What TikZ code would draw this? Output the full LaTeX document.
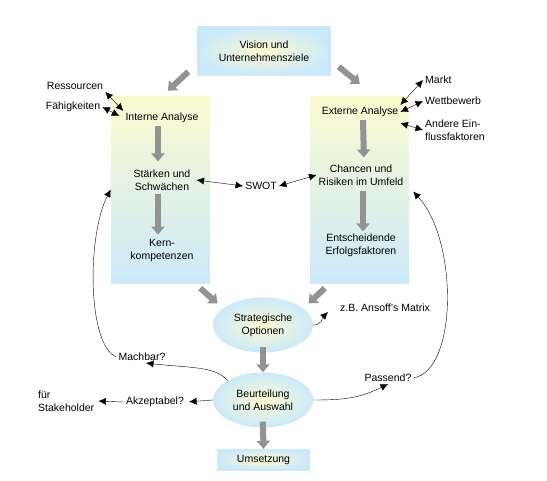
\documentclass[tikz,border=0pt]{standalone}
\usepackage{fontspec}
\setmainfont{Liberation Sans}
\usetikzlibrary{arrows.meta,shapes.geometric}
\definecolor{lblue}{RGB}{204,233,250}
\definecolor{lyell}{RGB}{251,251,208}
\tikzset{
  txt/.style = {align=center, inner sep=2pt, font=\fontsize{10.5}{13}\selectfont},
  box_v/.style = {rectangle, top color=lyell, bottom color=lblue, minimum width=99pt, minimum height=187pt},
  box_r/.style = {txt, rectangle, inner color=lyell, outer color=lblue},
  ell_o/.style = {txt, ellipse, inner color=lyell, outer color=lblue, minimum width=100pt, minimum height=55pt, inner sep=0pt},
  big_arr/.style = {draw=gray!85, line width=6pt, -{Triangle[length=8pt,width=13pt]}},
  thin_arr/.style = {draw=black, thin, -{Latex[length=7.5pt,width=7pt]}},
  dbl_arr/.style = {draw=black, thin, {Latex[length=7.5pt,width=7pt]}-{Latex[length=7.5pt,width=7pt]}}
}

\begin{document}
\begin{tikzpicture}[x=1pt, y=-1pt]
\useasboundingbox (0,0) rectangle (547,480);

% Ziele und Analyse
\node [box_r, minimum width=133pt, minimum height=49pt] (vision) at (264,51) {Vision und\\Unternehmensziele};
\node [box_v] (intbox) at (160.5,189.5) {};
\node [box_v] (extbox) at (359.5,189.5) {};

\node [txt] (intA) at (162,118) {Interne Analyse};
\node [txt] (sw) at (162,180) {Stärken und\\Schwächen};
\node [txt] (kern) at (162,250) {Kern-\\kompetenzen};
\node [txt] (extA) at (360,112) {Externe Analyse};
\node [txt] (chancen) at (361,175) {Chancen und\\Risiken im Umfeld};
\node [txt] (erfolg) at (361,245) {Entscheidende\\Erfolgsfaktoren};
\node [txt] (swot) at (261,186) {SWOT};

\node [txt] (res) at (75,86) {Ressourcen};
\node [txt] (faeh) at (73,107) {Fähigkeiten};
\node [txt, anchor=west] (markt) at (423,80) {Markt};
\node [txt, anchor=west] (wett) at (423,101) {Wettbewerb};
\node [txt, anchor=west, align=left] (andere) at (423,130) {Andere Ein-\\flussfaktoren};

% Optionen und Auswahl
\node [ell_o] (strat) at (263,325) {Strategische\\Optionen};
\node [ell_o] (beur) at (263,400) {Beurteilung\\und Auswahl};
\node [box_r, minimum width=93pt, minimum height=21pt, inner sep=0pt] (ums) at (263.5,459.5) {Umsetzung};

\node [txt, anchor=west] (ansoff) at (338,308) {z.B. Ansoff's Matrix};
\node [txt] (machbar) at (142,357) {Machbar?};
\node [txt] (akz) at (155,402) {Akzeptabel?};
\node [txt, anchor=west, align=left] (stake) at (36,401) {für\\Stakeholder};
\node [txt] (passend) at (388,378) {Passend?};

% graue Pfeile
\draw [big_arr] ([shift={(-9,-4)}]vision.south west) -- ([shift={(57,-5)}]intbox.north west);
\draw [big_arr] ([shift={(8,-9)}]vision.south east) -- ([shift={(50,-12)}]extbox.north west);
\draw [big_arr, shorten <=1pt, shorten >=6pt] ([xshift=-4pt]intA.south) -- ([xshift=-4pt]sw.north);
\draw [big_arr, shorten <=1pt, shorten >=2pt] ([xshift=-4pt]sw.south) -- ([xshift=-4pt]kern.north);
\draw [big_arr, shorten <=1pt, shorten >=5pt] ([xshift=3pt]extA.south) -- ([xshift=3pt]chancen.north);
\draw [big_arr, shorten <=3pt, shorten >=0pt] ([xshift=2pt]chancen.south) -- ([xshift=2pt]erfolg.north);
\draw [big_arr] ([shift={(-10,5)}]intbox.south east) -- ([shift={(-10,-2)}]strat.north west);
\draw [big_arr] ([shift={(15,5)}]extbox.south west) -- ([shift={(10,-2)}]strat.north east);
\draw [big_arr, shorten <=-6pt] (strat.south) -- (beur.north);
\draw [big_arr, shorten <=-6pt] (beur.south) -- (ums.north);

% duenne Pfeile
\draw [dbl_arr] (res.south east) -- (intA.north west);
\draw [dbl_arr] (faeh.east) -- ([shift={(-4,-2)}]intA.west);
\draw [dbl_arr] (extA.north east) -- (markt.west);
\draw [dbl_arr] (extA.east) -- (wett.west);
\draw [dbl_arr] ([yshift=-4pt]extA.south east) -- (andere.west);
\draw [dbl_arr] ([xshift=4pt]sw.east) -- (swot.west);
\draw [dbl_arr] (swot.east) -- (chancen.west);

\draw [thin_arr] (strat.east) .. controls (322,325) and (322,318) .. ([shift={(-10,4)}]ansoff.west);
\draw [thin_arr] (beur.north west) .. controls (215,366) and (190,368) .. ([xshift=4pt]machbar.south);
\draw [thin_arr] (beur.east) .. controls (345,400) and (360,398) .. (passend.south);
\draw [thin_arr, shorten >=3pt] (beur.west) -- (akz.east);
\draw [thin_arr, shorten >=2pt] (akz.west) -- (stake.east);
\draw [thin_arr] (machbar.west) .. controls (87,345) and (87,235) .. (intbox.west);
\draw [thin_arr] (passend.east) .. controls (458,370) and (458,240) .. ([shift={(4,2)}]extbox.east);
\end{tikzpicture}
\end{document}
